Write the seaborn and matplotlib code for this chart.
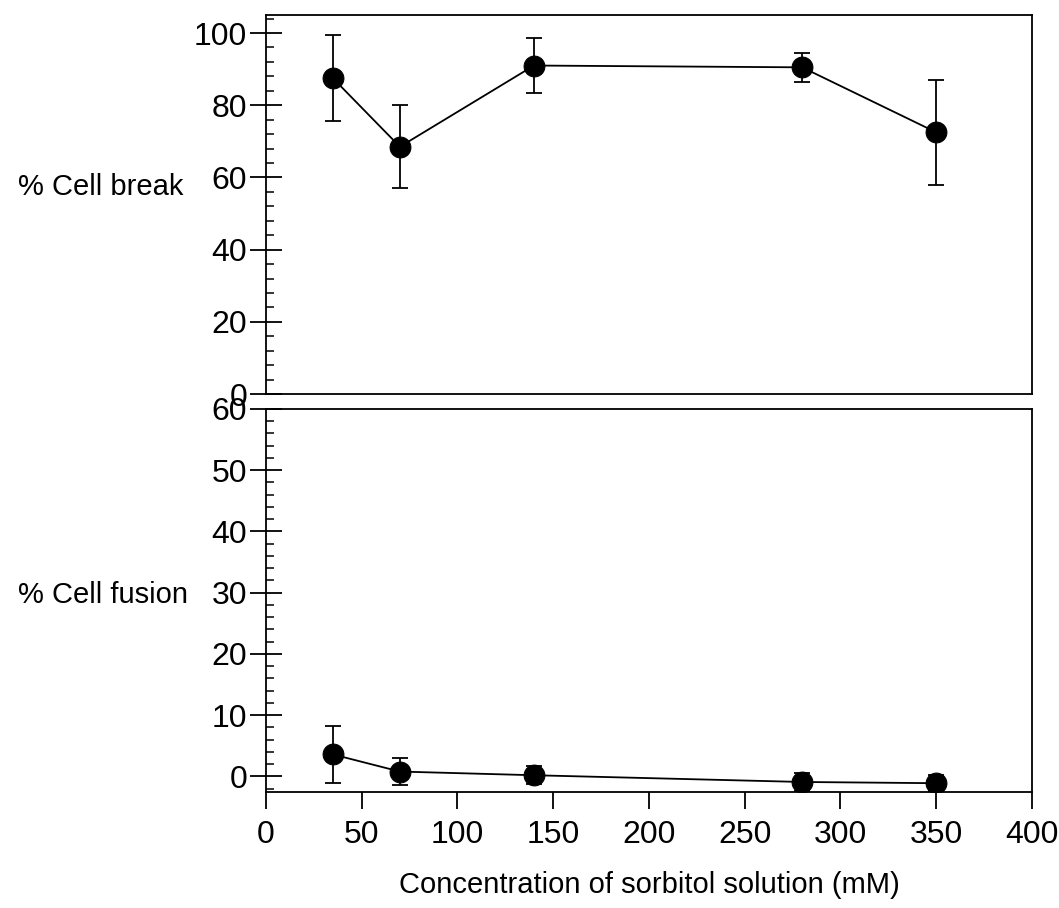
import matplotlib
matplotlib.use("Agg")
import matplotlib.pyplot as plt
import seaborn as sns
import numpy as np
import pandas as pd
from matplotlib.ticker import MultipleLocator

sns.set_style("white")
plt.rcParams['font.family'] = ['Liberation Sans', 'DejaVu Sans']
plt.rcParams['text.color'] = 'black'

conc = [35, 70, 140, 280, 350]
cell_break = [87.5, 68.5, 91.0, 90.5, 72.5]
cell_break_err = [12.0, 11.5, 7.5, 4.0, 14.5]
cell_fusion = [3.6, 0.8, 0.2, -0.9, -1.1]
cell_fusion_err = [4.7, 2.2, 1.5, 1.5, 1.3]

fig = plt.figure(figsize=(10.59, 9.08), dpi=100)
ax1 = fig.add_axes([0.251, 0.566, 0.7235, 0.4175])
ax2 = fig.add_axes([0.251, 0.128, 0.7235, 0.4216])

df1 = pd.DataFrame({"x": conc, "y": cell_break})
df2 = pd.DataFrame({"x": conc, "y": cell_fusion})

for ax, df, err in [(ax1, df1, cell_break_err), (ax2, df2, cell_fusion_err)]:
    ax.errorbar(df["x"], df["y"], yerr=err, fmt="none", ecolor="black",
                elinewidth=1.3, capsize=6, capthick=1.3, zorder=2)
    sns.lineplot(data=df, x="x", y="y", ax=ax, color="black", linewidth=1.3,
                 marker="o", markersize=15, markeredgecolor="black",
                 markerfacecolor="black", zorder=3)
    ax.set_xlim(0, 400)
    ax.set_xlabel("")
    ax.set_ylabel("")
    for s in ax.spines.values():
        s.set_color("black")
        s.set_linewidth(1.3)

ax1.set_ylim(0, 105)
ax1.yaxis.set_major_locator(MultipleLocator(20))
ax1.yaxis.set_minor_locator(MultipleLocator(4))
ax1.set_xticks([])

ax2.set_ylim(-2.5, 60)
ax2.yaxis.set_major_locator(MultipleLocator(10))
ax2.yaxis.set_minor_locator(MultipleLocator(2))
ax2.set_xticks(np.arange(0, 401, 50))

for ax in (ax1, ax2):
    ax.tick_params(axis="y", which="major", direction="inout", length=23,
                   width=1.3, left=True, labelsize=23, pad=2, colors="black")
    ax.tick_params(axis="y", which="minor", direction="in", length=6,
                   width=1.1, left=True, colors="black")
ax2.tick_params(axis="x", which="major", direction="out", length=12,
                width=1.3, bottom=True, labelsize=23, pad=8, colors="black")

fig.text(0.017, 0.794, "% Cell break", fontsize=21, ha="left", va="center")
fig.text(0.017, 0.345, "% Cell fusion", fontsize=21, ha="left", va="center")
fig.text(0.613, 0.025, "Concentration of sorbitol solution (mM)", fontsize=21,
         ha="center", va="center")

fig.savefig("out.png", dpi=100)
